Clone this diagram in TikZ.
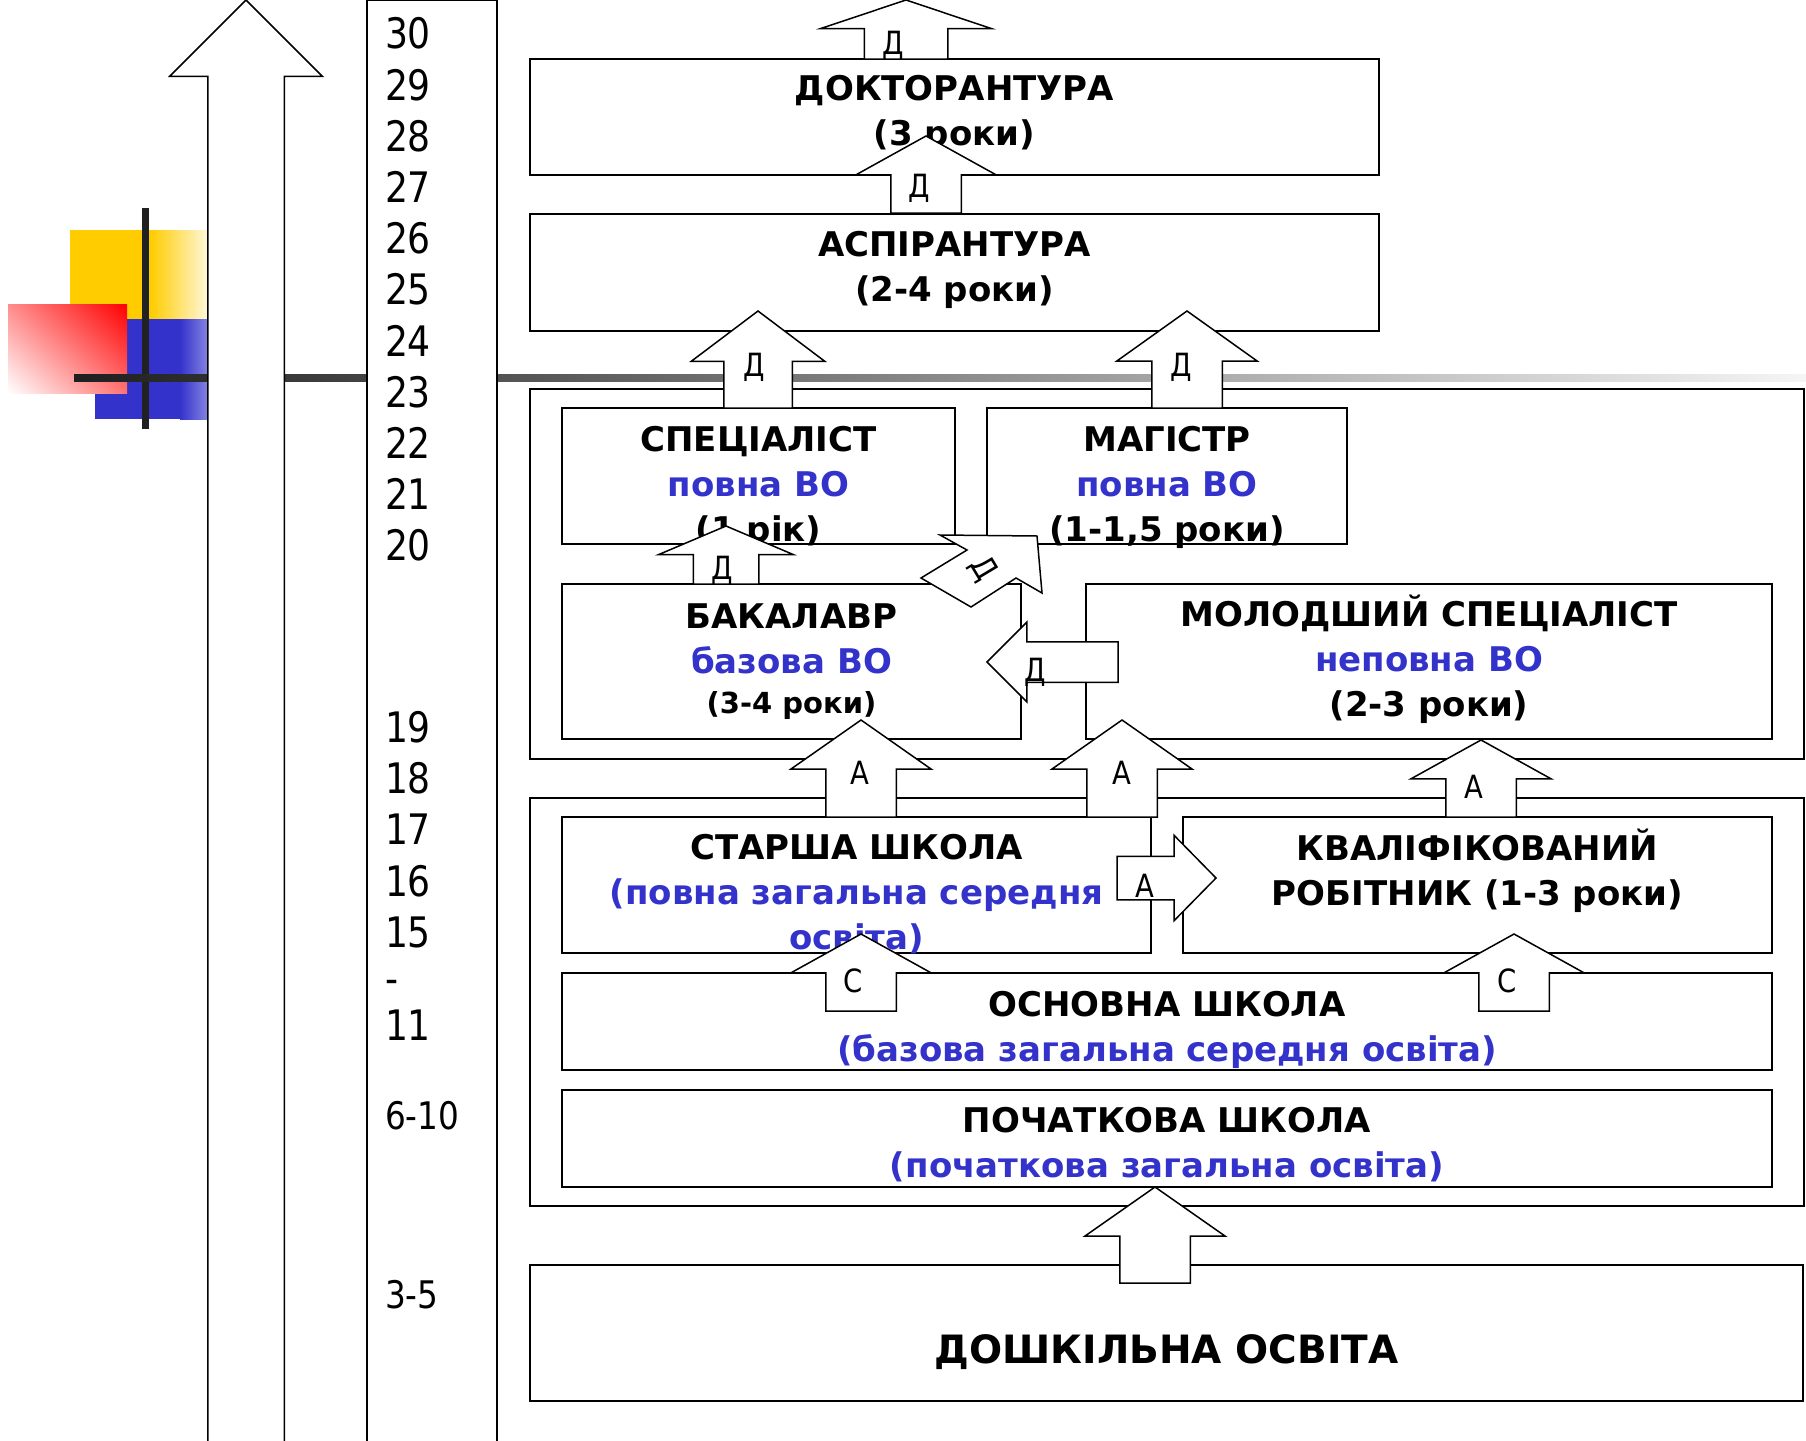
\documentclass[tikz,border=0pt]{standalone}
\usepackage{fontspec}
\setmainfont{DejaVu Sans}
\newfontfamily\tahfont{DejaVu Sans}[FakeStretch=0.86]
\usetikzlibrary{shapes.arrows,shadings}
\definecolor{edublue}{RGB}{51,51,204}
\definecolor{decoyellow}{RGB}{255,204,0}

\begin{document}
\begin{tikzpicture}[x=1pt,y=-1pt,inner sep=0pt,outer sep=0pt,line width=2pt,
box/.style={draw,rectangle,line width=2pt},
title/.style={align=center,font=\bfseries\fontsize{34}{45}\selectfont},
blk/.style={draw,fill=white,single arrow,line width=1.5pt,anchor=tip,inner ysep=34.5pt,single arrow head extend=35pt},
upblk/.style={blk,rotate=90},
lbl/.style={font=\tahfont\fontsize{32}{32}\selectfont,text height=23pt,text depth=0pt},
agenum/.style={anchor=west,font=\tahfont\fontsize{42}{42}\selectfont,text height=30pt,text depth=0pt},
agesmall/.style={agenum,font=\tahfont\fontsize{38}{38}\selectfont,text height=27pt}]
\useasboundingbox (0,0) rectangle (1806,1440);

\fill[decoyellow] (70,230) rectangle (151,319);
\shade[left color=decoyellow,right color=decoyellow!15] (150,230) rectangle (208,319);
\fill[edublue] (95,319) rectangle (181,419);
\shade[left color=edublue,right color=edublue!60] (180,319) rectangle (208,419);
\shade[upper left=red!45,upper right=red,lower left=white,lower right=red!55] (8,304) rectangle (127,393);
\fill[black!87] (142,208) rectangle (149,429);
\shade[left color=black!88,right color=black!4] (74,374) rectangle (1806,381);

\draw (246,0) node[upblk,inner ysep=37.5pt,single arrow head extend=38pt,minimum height=1450pt,single arrow tip angle=90] (agearrow) {};
\draw (432,722) node[draw,fill=white,line width=1.5pt,minimum width=130pt,minimum height=1444pt] (agecol) {};

\draw (385,33) node[agenum] (a30) {30};
\draw (385,85) node[agenum] (a29) {29};
\draw (385,136) node[agenum] (a28) {28};
\draw (385,187) node[agenum] (a27) {27};
\draw (385,238) node[agenum] (a26) {26};
\draw (385,289) node[agenum] (a25) {25};
\draw (385,341) node[agenum] (a24) {24};
\draw (385,392) node[agenum] (a23) {23};
\draw (385,443) node[agenum] (a22) {22};
\draw (385,494) node[agenum] (a21) {21};
\draw (385,545) node[agenum] (a20) {20};
\draw (385,727) node[agenum] (a19) {19};
\draw (385,778) node[agenum] (a18) {18};
\draw (385,829) node[agenum] (a17) {17};
\draw (385,881) node[agenum] (a16) {16};
\draw (385,932) node[agenum] (a15) {15};
\draw (385,978) node[agenum] (adash) {-};
\draw (385,1025) node[agenum] (a11) {11};
\draw (385,1116) node[agesmall] (a6) {6-10};
\draw (385,1295) node[agesmall] (a3) {3-5};

\draw (954.5,117) node[box,minimum width=849pt,minimum height=116pt] (dokt) {};
\draw (954.5,272.5) node[box,minimum width=849pt,minimum height=117pt] (asp) {};
\draw (1167,574) node[box,minimum width=1274pt,minimum height=370pt] (higher) {};
\draw (758.5,476) node[box,minimum width=393pt,minimum height=136pt] (spec) {};
\draw (1167,476) node[box,minimum width=360pt,minimum height=136pt] (mag) {};
\draw (791.5,661.5) node[box,minimum width=459pt,minimum height=155pt] (bak) {};
\draw (1429,661.5) node[box,minimum width=686pt,minimum height=155pt] (molod) {};
\draw (1167,1002) node[box,minimum width=1274pt,minimum height=408pt] (school) {};
\draw (856.5,885) node[box,minimum width=589pt,minimum height=136pt] (senior) {};
\draw (1477.5,885) node[box,minimum width=589pt,minimum height=136pt] (worker) {};
\draw (1167,1021.5) node[box,minimum width=1210pt,minimum height=97pt] (basic) {};
\draw (1167,1138.5) node[box,minimum width=1210pt,minimum height=97pt] (primary) {};
\draw (1166.5,1333) node[box,minimum width=1273pt,minimum height=136pt] (preschool) {};

\draw (dokt) ++(0,-3) node[title] (doktT) {ДОКТОРАНТУРА\\(3 роки)};
\draw (asp) ++(0,-3) node[title] (aspT) {АСПІРАНТУРА\\(2-4 роки)};
\draw (spec) ++(0,11) node[title] (specT) {СПЕЦІАЛІСТ\\\textcolor{edublue}{повна ВО}\\(1 рік)};
\draw (mag) ++(0,11) node[title] (magT) {МАГІСТР\\\textcolor{edublue}{повна ВО}\\(1-1,5 роки)};
\draw (bak) ++(0,0) node[title] (bakT) {БАКАЛАВР\\\textcolor{edublue}{базова ВО}\\[-5pt]{\fontsize{29}{40}\selectfont(3-4 роки)}};
\draw (molod) ++(0,-2) node[title] (molodT) {МОЛОДШИЙ СПЕЦІАЛІСТ\\\textcolor{edublue}{неповна ВО}\\(2-3 роки)};
\draw (senior) ++(0,9) node[title] (seniorT) {СТАРША ШКОЛА\\\textcolor{edublue}{(повна загальна середня}\\\textcolor{edublue}{освіта)}};
\draw (worker) ++(0,-14) node[title] (workerT) {КВАЛІФІКОВАНИЙ\\РОБІТНИК (1-3 роки)};
\draw (basic) ++(0,8) node[title] (basicT) {ОСНОВНА ШКОЛА\\\textcolor{edublue}{(базова загальна середня освіта)}};
\draw (primary) ++(0,6) node[title] (primaryT) {ПОЧАТКОВА ШКОЛА\\\textcolor{edublue}{(початкова загальна освіта)}};
\draw (preschool) ++(0,19) node[title,font=\bfseries\fontsize{39}{45}\selectfont] (preschoolT) {ДОШКІЛЬНА ОСВІТА};

\draw (906,0) node[upblk,inner ysep=41pt,single arrow head extend=43.5pt,minimum height=59pt,single arrow tip angle=143] (toD) {};
\draw (926,136) node[upblk,minimum height=77pt,single arrow tip angle=122] (aspD) {};
\draw (758,311) node[upblk,inner ysep=33.5pt,single arrow head extend=32.5pt,minimum height=97pt,single arrow tip angle=106] (specD) {};
\draw (1187,311) node[upblk,minimum height=97pt,single arrow tip angle=109] (magD) {};
\draw (726,526) node[upblk,inner ysep=32pt,single arrow head extend=34.5pt,minimum height=58pt,single arrow tip angle=134] (bakD) {};
\draw[line width=1.5pt,fill=white] (940,535) -- (1037,536) -- (1042,593) -- (1016,578) -- (971,607) -- (921,578) -- (967,550) -- cycle;
\draw (987,662) node[blk,rotate=180,inner ysep=19.5pt,single arrow head extend=19.5pt,minimum height=131pt,single arrow tip angle=90] (molodD) {};
\draw (861,720) node[upblk,minimum height=97pt,single arrow tip angle=110] (seniorA) {};
\draw (1122,720) node[upblk,minimum height=97pt,single arrow tip angle=110] (seniorA2) {};
\draw (1481,740) node[upblk,minimum height=77pt,single arrow tip angle=122] (workerA) {};
\draw (1216,878) node[blk,inner ysep=21pt,single arrow head extend=21pt,minimum height=99pt,single arrow tip angle=91] (sideA) {};
\draw (861,934) node[upblk,minimum height=77pt,single arrow tip angle=122] (basicC) {};
\draw (1514,934) node[upblk,minimum height=77pt,single arrow tip angle=122] (basicC2) {};
\draw (1155,1187) node[upblk,minimum height=96pt,single arrow tip angle=110] (preschoolUp) {};

\draw (893,43) node[lbl] (lD1) {Д};
\draw (919,186) node[lbl] (lD2) {Д};
\draw (754,365) node[lbl] (lD3) {Д};
\draw (1181,365) node[lbl] (lD4) {Д};
\draw (722,568) node[lbl] (lD5) {Д};
\draw (985,568) node[lbl,rotate=-59] (lD6) {Д};
\draw (1035,670) node[lbl] (lD7) {Д};
\draw (860,773) node[lbl] (lA1) {А};
\draw (1122,773) node[lbl] (lA2) {А};
\draw (1474,787) node[lbl] (lA3) {А};
\draw (1145,886) node[lbl] (lA4) {А};
\draw (853,981) node[lbl] (lC1) {С};
\draw (1507,981) node[lbl] (lC2) {С};
\end{tikzpicture}
\end{document}
